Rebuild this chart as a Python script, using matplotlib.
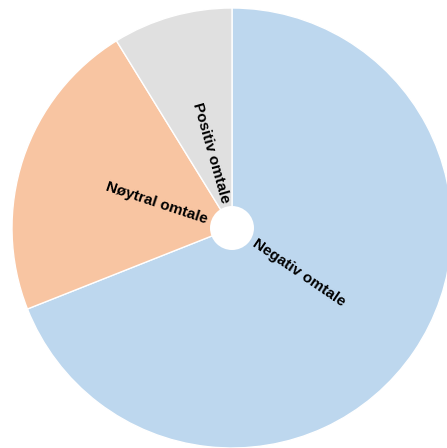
import matplotlib.pyplot as plt
import numpy as np
from matplotlib.patches import Circle

labels = ["Negativ omtale", "Nøytral omtale", "Positiv omtale"]
values = [69.0, 22.2, 8.8]
colors = ["#bdd7ee", "#f8c5a2", "#e0e0e0"]

W, H = 447, 448
cx, cy, radius = 232, H - 228, 220
hole = 22

fig = plt.figure(figsize=(W / 100, H / 100), dpi=100)
ax = fig.add_axes([0, 0, 1, 1])

wedges, _ = ax.pie(values, colors=colors, startangle=90, counterclock=False,
                   center=(cx, cy), radius=radius,
                   wedgeprops=dict(edgecolor="white", linewidth=1.0))
ax.add_patch(Circle((cx, cy), hole, facecolor="white", edgecolor="none", zorder=5))

# pie() resets the limits, so set them afterwards
ax.set_xlim(0, W)
ax.set_ylim(0, H)
ax.set_aspect("equal")
ax.axis("off")

total = sum(values)
start = 90.0
for lab, v in zip(labels, values):
    span = v / total * 360
    mid = start - span / 2
    start -= span
    rad = np.deg2rad(mid)
    r = hole + 4
    x, y = cx + r * np.cos(rad), cy + r * np.sin(rad)
    m = mid % 360
    if 90 < m < 270:
        rot, ha = m - 180, "right"
    else:
        rot, ha = m if m <= 90 else m - 360, "left"
    ax.text(x, y, lab, rotation=rot, rotation_mode="anchor", ha=ha, va="center",
            fontsize=11, fontweight="bold", family="Liberation Sans", zorder=6)

fig.savefig("out.png", dpi=100)
